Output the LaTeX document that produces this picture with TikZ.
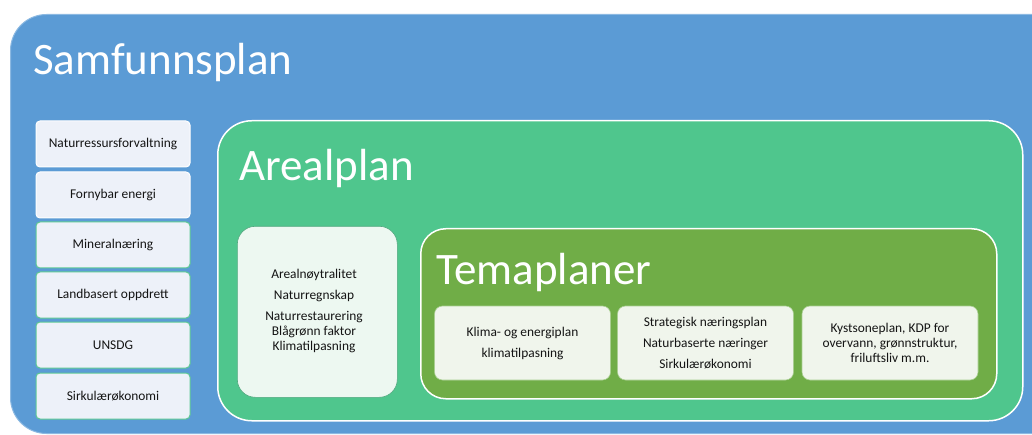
\documentclass[tikz,border=0pt]{standalone}
\usepackage{fontspec}
\setmainfont{Carlito}
\definecolor{sblue}{HTML}{5B9BD5}
\definecolor{agreen}{HTML}{4FC68D}
\definecolor{tgreen}{HTML}{70AD47}
\definecolor{listfill}{HTML}{EDF1F9}
\definecolor{listedge}{HTML}{5CC894}
\definecolor{afill}{HTML}{EDF8F1}
\definecolor{tfill}{HTML}{F0F5EC}
\begin{document}
\begin{tikzpicture}[x=1pt,y=-1pt,
  title/.style={anchor=base west,text=white,font=\fontsize{45}{50}\selectfont,inner sep=0pt},
  small/.style={font=\fontsize{13.4}{15}\selectfont,text=black!92},
  listbox/.style={draw=#1,line width=1pt,fill=listfill,rounded corners=4pt,minimum width=154pt,minimum height=46pt,inner sep=0pt,small},
  listbox/.default=white,
  tbox/.style={fill=tfill,draw=tgreen!60!white,line width=0.6pt,rounded corners=8pt,minimum width=176pt,minimum height=74pt,inner sep=0pt,align=center,small}]
\useasboundingbox (0,0) rectangle (1032,435);
\begin{scope}
\clip (0,0) rectangle (1032,435);
\node[draw=sblue!70!white,line width=1pt,fill=sblue,rounded corners=36pt,minimum width=1060pt,minimum height=419pt,inner sep=0pt,anchor=north west] (samf) at (10,14) {};
\end{scope}
\node[title] (samft) at (33,75) {Samfunnsplan};
% left list
\node[listbox] (l1) at (113,144) {Naturressursforvaltning};
\node[listbox] (l2) at (113,195) {Fornybar energi};
\node[listbox=listedge] (l3) at (113,245) {Mineralnæring};
\node[listbox=listedge] (l4) at (113,295) {Landbasert oppdrett};
\node[listbox=listedge] (l5) at (113,345) {UNSDG};
\node[listbox=listedge] (l6) at (113,396) {Sirkulærøkonomi};
% Arealplan
\node[draw=white,line width=1.5pt,fill=agreen,rounded corners=34pt,minimum width=805pt,minimum height=300pt,inner sep=0pt,anchor=north west] (areal) at (217,120) {};
\node[title] (arealt) at (239,181) {Arealplan};
\node[draw=agreen!80!black!90,line width=0.6pt,fill=afill,rounded corners=18pt,minimum width=160pt,minimum height=171pt,inner sep=0pt,anchor=north west] (abox) at (237,226) {};
\node[align=center,small,anchor=center] (atext) at (314,311) {Arealnøytralitet\\[6pt]Naturregnskap\\[6pt]Naturrestaurering\\Blågrønn faktor\\Klimatilpasning};
% Temaplaner
\node[draw=white,line width=1.5pt,fill=tgreen,rounded corners=25pt,minimum width=576pt,minimum height=170pt,inner sep=0pt,anchor=north west] (tema) at (420,228) {};
\node[title] (temat) at (436,284) {Temaplaner};
\node[tbox] (t1) at (522.5,343) {Klima- og energiplan\\[6pt]klimatilpasning};
\node[tbox] (t2) at (705.5,343) {Strategisk næringsplan\\[6pt]Naturbaserte næringer\\[6pt]Sirkulærøkonomi};
\node[tbox] (t3) at (890,343) {Kystsoneplan, KDP for\\overvann, grønnstruktur,\\friluftsliv m.m.};
\end{tikzpicture}
\end{document}
